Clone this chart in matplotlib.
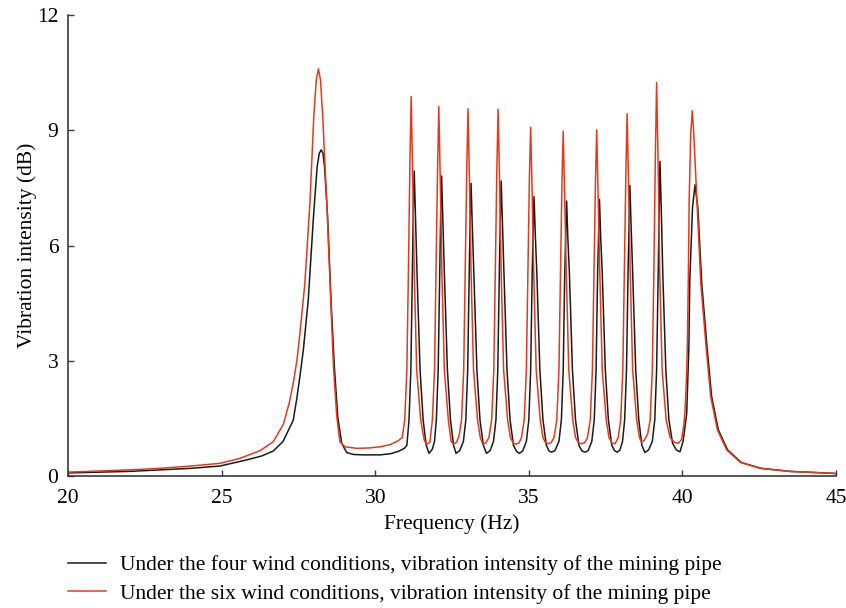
import matplotlib
matplotlib.use("Agg")
import matplotlib.pyplot as plt

plt.rcParams["font.family"] = ["Liberation Serif", "DejaVu Serif"]

# four wind conditions (black curve)
freq_four = [
    20.0, 21.0, 22.0, 23.0, 24.0, 24.95, 25.82, 26.3, 26.68, 27.0, 27.12, 27.33,
    27.44, 27.55, 27.66, 27.82, 27.99, 28.11, 28.18, 28.24, 28.3, 28.35, 28.45,
    28.56, 28.67, 28.78, 28.91, 29.07, 29.3, 29.61, 30.16, 30.5, 30.75, 30.95, 31.03,
    31.10, 31.16, 31.21, 31.24, 31.27, 31.31, 31.36, 31.46, 31.56, 31.66, 31.75,
    31.86, 31.93, 31.99, 32.05, 32.10, 32.13, 32.16, 32.20, 32.25, 32.35, 32.45, 32.55, 32.63,
    32.75, 32.87, 32.95, 33.01, 33.06, 33.09, 33.12, 33.16, 33.21, 33.31, 33.41, 33.52, 33.62,
    33.74, 33.85, 33.93, 33.99, 34.04, 34.07, 34.10, 34.14, 34.19, 34.29, 34.39, 34.50, 34.60, 34.69,
    34.80, 34.92, 35.00, 35.06, 35.11, 35.14, 35.17, 35.21, 35.26, 35.36, 35.46, 35.57, 35.66, 35.74,
    35.85, 35.98, 36.06, 36.12, 36.17, 36.20, 36.23, 36.27, 36.32, 36.42, 36.52, 36.63, 36.73, 36.83,
    36.93, 37.05, 37.13, 37.19, 37.24, 37.27, 37.30, 37.34, 37.39, 37.49, 37.59, 37.70, 37.79, 37.88,
    37.97, 38.05, 38.12, 38.18, 38.23, 38.26, 38.29, 38.33, 38.38, 38.48, 38.58, 38.68, 38.78,
    38.90, 39.02, 39.10, 39.16, 39.21, 39.24, 39.27, 39.31, 39.36, 39.46, 39.56, 39.68, 39.80, 39.92,
    40.02, 40.08, 40.14, 40.21, 40.24, 40.33, 40.41, 40.50, 40.63, 40.80, 40.95, 41.17, 41.47,
    41.92, 42.56, 43.5, 44.9, 45.0,
]
level_four = [
    0.08, 0.10, 0.12, 0.16, 0.20, 0.26, 0.42, 0.52, 0.65, 0.90, 1.10, 1.45,
    1.98, 2.60, 3.28, 4.58, 6.75, 8.05, 8.40, 8.49, 8.40, 8.05, 6.75,
    4.58, 2.85, 1.54, 0.85, 0.61, 0.56, 0.55, 0.55, 0.58, 0.64, 0.72, 0.80,
    1.46, 2.76, 5.3, 6.9, 7.94, 6.8, 5.3, 2.76, 1.46, 0.80, 0.59,
    0.70, 0.90, 1.46, 2.76, 5.3, 6.8, 7.81, 6.7, 5.3, 2.76, 1.46, 0.80, 0.59,
    0.66, 0.90, 1.46, 2.76, 5.3, 6.6, 7.62, 6.5, 5.3, 2.76, 1.46, 0.80, 0.59,
    0.66, 0.90, 1.46, 2.76, 5.3, 6.6, 7.68, 6.6, 5.3, 2.76, 1.46, 0.80, 0.64, 0.59,
    0.65, 0.90, 1.46, 2.76, 5.3, 6.3, 7.27, 6.3, 5.3, 2.76, 1.46, 0.80, 0.65, 0.62,
    0.66, 0.90, 1.46, 2.76, 5.3, 6.2, 7.16, 6.2, 5.3, 2.76, 1.46, 0.80, 0.65, 0.62,
    0.66, 0.90, 1.46, 2.76, 5.3, 6.2, 7.20, 6.2, 5.3, 2.76, 1.46, 0.80, 0.66, 0.62,
    0.68, 0.90, 1.46, 2.76, 5.3, 6.5, 7.56, 6.5, 5.3, 2.76, 1.46, 0.80, 0.61,
    0.68, 0.90, 1.46, 2.76, 5.3, 7.0, 8.19, 7.0, 5.3, 2.76, 1.46, 0.85, 0.68, 0.63,
    0.90, 1.25, 1.63, 3.37, 5.1, 7.0, 7.58, 7.0, 5.0, 3.37, 2.07, 1.20, 0.68,
    0.35, 0.20, 0.12, 0.07, 0.06,
]

# six wind conditions (red curve)
freq_six = [
    20.0, 21.0, 22.0, 23.0, 24.0, 24.95, 25.6, 26.25, 26.68, 27.01, 27.2, 27.33,
    27.45, 27.55, 27.71, 27.88, 28.0, 28.08, 28.15, 28.22, 28.29, 28.42, 28.53,
    28.64, 28.75, 28.85, 29.02, 29.4, 29.8, 30.16, 30.5, 30.75, 30.88,
    30.96, 31.03, 31.08, 31.13, 31.17, 31.22, 31.27, 31.35, 31.48, 31.60, 31.68,
    31.78, 31.86, 31.93, 31.98, 32.03, 32.07, 32.12, 32.17, 32.25, 32.38, 32.47, 32.55,
    32.65, 32.73, 32.81, 32.88, 32.93, 32.98, 33.02, 33.07, 33.12, 33.20, 33.33, 33.42, 33.50,
    33.60, 33.70, 33.79, 33.86, 33.91, 33.96, 34.00, 34.05, 34.10, 34.18, 34.31, 34.40, 34.50, 34.58,
    34.68, 34.76, 34.85, 34.92, 34.97, 35.02, 35.06, 35.11, 35.16, 35.24, 35.37, 35.46, 35.55, 35.63,
    35.73, 35.82, 35.91, 35.98, 36.03, 36.08, 36.12, 36.17, 36.22, 36.30, 36.43, 36.52, 36.62, 36.72,
    36.82, 36.91, 37.00, 37.07, 37.12, 37.17, 37.21, 37.26, 37.31, 37.39, 37.52, 37.61, 37.71, 37.81,
    37.91, 37.99, 38.06, 38.11, 38.16, 38.20, 38.25, 38.30, 38.38, 38.51, 38.60, 38.67,
    38.75, 38.87, 38.95, 39.02, 39.07, 39.12, 39.16, 39.21, 39.26, 39.34, 39.47, 39.60, 39.75, 39.87,
    39.97, 40.04, 40.08, 40.13, 40.16, 40.19, 40.22, 40.27, 40.32, 40.37, 40.47, 40.60,
    40.77, 40.92, 41.14, 41.44, 41.88, 42.53, 43.5, 44.9, 45.0,
]
level_six = [
    0.10, 0.13, 0.16, 0.20, 0.26, 0.33, 0.46, 0.66, 0.89, 1.35, 1.90, 2.41,
    3.00, 3.72, 5.02, 7.19, 9.36, 10.30, 10.60, 10.30, 9.36, 7.19, 5.02,
    2.85, 1.54, 0.89, 0.76, 0.72, 0.73, 0.76, 0.82, 0.92, 1.00,
    1.46, 2.76, 5.3, 8.2, 9.88, 7.8, 5.3, 2.76, 1.46, 0.92, 0.83,
    0.88, 1.46, 2.76, 5.3, 8.0, 9.62, 7.6, 5.3, 2.76, 1.46, 0.90, 0.83,
    0.88, 1.05, 1.46, 2.76, 5.3, 8.0, 9.56, 7.6, 5.3, 2.76, 1.46, 1.00, 0.83,
    0.86, 1.00, 1.46, 2.76, 5.3, 8.0, 9.55, 7.6, 5.3, 2.76, 1.46, 1.00, 0.85, 0.83,
    0.86, 1.00, 1.46, 2.76, 5.3, 7.8, 9.08, 7.3, 5.3, 2.76, 1.46, 1.00, 0.86, 0.84,
    0.87, 1.00, 1.46, 2.76, 5.3, 7.7, 8.98, 7.2, 5.3, 2.76, 1.46, 1.00, 0.86, 0.84,
    0.87, 1.00, 1.46, 2.76, 5.3, 7.7, 9.01, 7.2, 5.3, 2.76, 1.46, 1.00, 0.86, 0.84,
    1.00, 1.46, 2.76, 5.3, 7.9, 9.43, 7.5, 5.3, 2.76, 1.46, 1.00, 0.88,
    0.92, 1.10, 1.46, 2.76, 5.3, 8.4, 10.24, 8.1, 5.3, 2.76, 1.46, 1.00, 0.87, 0.85,
    0.95, 1.30, 1.63, 2.50, 3.37, 5.0, 7.2, 8.9, 9.51, 8.9, 7.2, 5.0,
    3.37, 2.07, 1.20, 0.68, 0.36, 0.20, 0.12, 0.07, 0.065,
]

label_four = "Under the four wind conditions, vibration intensity of the mining pipe"
label_six = "Under the six wind conditions, vibration intensity of the mining pipe"

fig = plt.figure(figsize=(8.46, 6.08), dpi=100)
ax = fig.add_axes([0.0804, 0.2171, 0.9078, 0.7582])

ax.plot(freq_four, level_four, color="#1a1a1a", lw=1.1, label=label_four)
ax.plot(freq_six, level_six, color="#e8381c", lw=1.1, label=label_six)

ax.set_xlim(20, 45)
ax.set_ylim(0, 12)
ax.set_xticks([20, 25, 30, 35, 40, 45])
ax.set_yticks([0, 3, 6, 9, 12])
for side in ("top", "right"):
    ax.spines[side].set_visible(False)
for side in ("left", "bottom"):
    ax.spines[side].set_color("#3a3a3a")
    ax.spines[side].set_linewidth(1.2)
ax.tick_params(direction="in", length=4, width=1.0, color="#3a3a3a",
               labelsize=15.5)
ax.tick_params(axis="x", pad=9)
ax.tick_params(axis="y", pad=7)
ax.set_xlabel("Frequency (Hz)", fontsize=15.5, labelpad=5)
ax.set_ylabel("Vibration intensity (dB)", fontsize=15.5, labelpad=0)

fig.legend(loc="center left", bbox_to_anchor=(68 / 846, 0.0470), frameon=False,
           fontsize=15.5, handlelength=1.75, handletextpad=0.65, labelspacing=0.38,
           borderpad=0, borderaxespad=0)

fig.savefig("out.png", dpi=100)
